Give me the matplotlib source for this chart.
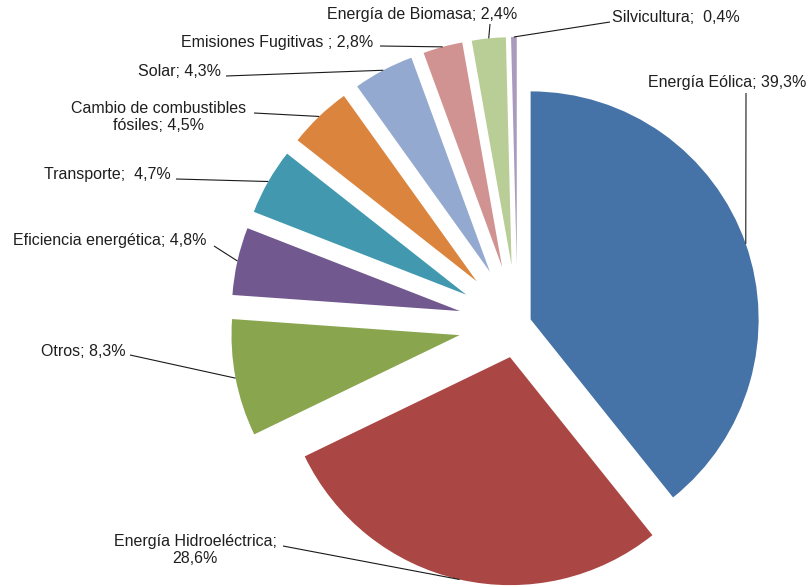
import numpy as np
import matplotlib
matplotlib.use("Agg")
import matplotlib.pyplot as plt

plt.rcParams['font.family'] = ['Liberation Sans', 'DejaVu Sans']

# ---- data ----
categories = ["Energía Eólica", "Energía Hidroeléctrica", "Otros", "Eficiencia energética",
              "Transporte", "Cambio de combustibles fósiles", "Solar", "Emisiones Fugitivas",
              "Energía de Biomasa", "Silvicultura"]
values = [39.3, 28.6, 8.3, 4.8, 4.7, 4.5, 4.3, 2.8, 2.4, 0.4]
label_texts = ["Energía Eólica; 39,3%", "Energía Hidroeléctrica;\n28,6%", "Otros; 8,3%",
               "Eficiencia energética; 4,8%", "Transporte;  4,7%",
               "Cambio de combustibles\nfósiles; 4,5%", "Solar; 4,3%",
               "Emisiones Fugitivas ; 2,8%", "Energía de Biomasa; 2,4%", "Silvicultura;  0,4%"]
colors = ["#4572A7", "#AA4643", "#89A54E", "#71588F", "#4198AF",
          "#DB843D", "#93A9CF", "#D19392", "#B9CD96", "#A99BBD"]
explode = [0.061, 0.149, 0.259, 0.259, 0.259, 0.259, 0.259, 0.259, 0.259, 0.259]

W, H = 809, 587
R = 228
fig = plt.figure(figsize=(W / 100, H / 100), dpi=100)
ax = fig.add_axes([0, 0, 1, 1])

def iy(y):
    return H - y

wedges, _ = ax.pie(values, colors=colors, explode=[e * R for e in explode], startangle=90,
                   counterclock=False, radius=R, center=(517.5, iy(324)),
                   wedgeprops=dict(linewidth=0))
ax.set_xlim(0, W)
ax.set_ylim(0, H)
ax.set_aspect('equal')
ax.axis('off')

# label layout: (text x, text y, ha, leader start x, leader start y) in image px
layout = [
    (727, 83, 'center', 746, 93),
    (195, 550, 'center', 283, 546),
    (83, 352, 'center', 130, 355),
    (110, 241, 'center', 214, 246),
    (107, 175, 'center', 176, 179),
    (159, 117, 'center', 254, 113),
    (180, 71, 'center', 226, 76),
    (277, 43, 'center', 380, 46),
    (422, 15, 'center', 490, 24),
    (676, 17, 'center', 610, 22),
]

for w, txt, (tx, ty, ha, lx, ly) in zip(wedges, label_texts, layout):
    mid = np.deg2rad((w.theta1 + w.theta2) / 2)
    cx, cy = w.center
    px = cx + w.r * np.cos(mid)
    py = cy + w.r * np.sin(mid)
    ax.plot([lx, px], [iy(ly), py], color='#1a1a1a', lw=0.8, solid_capstyle='butt')
    ax.text(tx, iy(ty), txt, ha=ha, va='center', fontsize=11.5, color='#1f1f1f',
            linespacing=1.1, multialignment='center')

fig.savefig("out.png", dpi=100, facecolor='white')
